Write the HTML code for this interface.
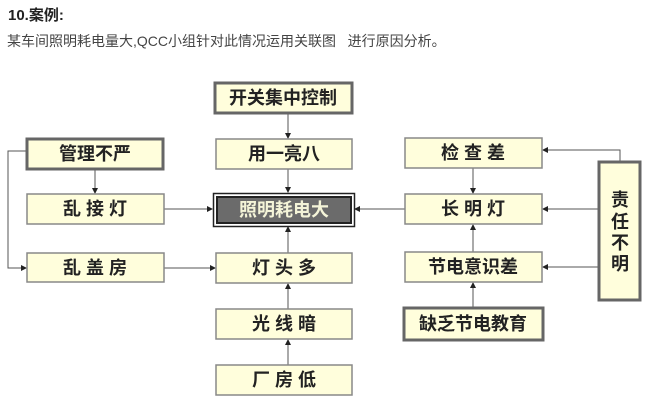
<!DOCTYPE html>
<html><head><meta charset="utf-8"><style>
body{margin:0;background:#fff;width:651px;height:413px;overflow:hidden;font-family:"Liberation Sans","Noto Sans CJK SC",sans-serif}
.t1{position:absolute;left:8px;top:4px;font-size:15px;font-weight:bold;color:#222}
.t2{position:absolute;left:7px;top:31px;font-size:14px;color:#444}
svg{position:absolute;left:0;top:0}
svg text{font-family:"Liberation Sans","Noto Sans CJK SC",sans-serif;font-weight:bold;font-size:18px;fill:#222;text-anchor:middle;dominant-baseline:central}
</style></head><body>
<div class="t1">10.案例:</div>
<div class="t2">某车间照明耗电量大,QCC小组针对此情况运用关联图&nbsp;&nbsp;&nbsp;进行原因分析。</div>
<svg width="651" height="413" viewBox="0 0 651 413">
<defs><marker id="a" markerWidth="6" markerHeight="6" refX="5" refY="3" orient="auto" markerUnits="userSpaceOnUse"><path d="M0,0 L6,3 L0,6 z" fill="#222"/></marker></defs>
<g stroke="#555" stroke-width="1" fill="none">
<line x1="288" y1="113" x2="288" y2="138" marker-end="url(#a)"/>
<line x1="288" y1="169" x2="288" y2="192" marker-end="url(#a)"/>
<line x1="95" y1="169" x2="95" y2="193" marker-end="url(#a)"/>
<line x1="164" y1="209" x2="212" y2="209" marker-end="url(#a)"/>
<line x1="405" y1="209" x2="355" y2="209" marker-end="url(#a)"/>
<line x1="288" y1="253" x2="288" y2="227" marker-end="url(#a)"/>
<line x1="288" y1="309" x2="288" y2="284" marker-end="url(#a)"/>
<line x1="288" y1="365" x2="288" y2="340" marker-end="url(#a)"/>
<line x1="164" y1="268" x2="215" y2="268" marker-end="url(#a)"/>
<polyline points="26,151 8,151 8,268 26,268" marker-end="url(#a)"/>
<line x1="473" y1="168" x2="473" y2="193" marker-end="url(#a)"/>
<line x1="473" y1="252" x2="473" y2="225" marker-end="url(#a)"/>
<line x1="473" y1="307" x2="473" y2="283" marker-end="url(#a)"/>
<polyline points="620,162 620,150 543,150" marker-end="url(#a)"/>
<line x1="598" y1="209" x2="543" y2="209" marker-end="url(#a)"/>
<line x1="598" y1="267" x2="543" y2="267" marker-end="url(#a)"/>
</g>
<g fill="#fffedc" stroke="#888" stroke-width="1.5">
<rect x="216" y="139" width="136" height="30"/>
<rect x="27" y="194" width="137" height="30"/>
<rect x="27" y="253" width="137" height="29"/>
<rect x="216" y="253" width="136" height="30"/>
<rect x="216" y="309" width="136" height="30"/>
<rect x="216" y="365" width="136" height="30"/>
<rect x="405" y="138" width="137" height="30"/>
<rect x="405" y="194" width="137" height="30"/>
<rect x="405" y="252" width="137" height="30"/>
</g>
<g fill="#fffedc" stroke="#666" stroke-width="3">
<rect x="215" y="83" width="137" height="30"/>
<rect x="27" y="139" width="136" height="30"/>
<rect x="404" y="308" width="139" height="32"/>
<rect x="599" y="162" width="41" height="138"/>
</g>
<rect x="213.5" y="193.5" width="141" height="33" fill="#fff" stroke="#222" stroke-width="1.5"/>
<rect x="217" y="197" width="134" height="26" fill="#6b6b6b" stroke="#222" stroke-width="2"/>
<text x="283" y="98" font-size="16">开关集中控制</text>
<text x="95" y="154">管理不严</text>
<text x="284" y="154">用一亮八</text>
<text x="95" y="209">乱 接 灯</text>
<text x="284" y="210" style="fill:#f4f4d8">照明耗电大</text>
<text x="95" y="268">乱 盖 房</text>
<text x="284" y="268">灯 头 多</text>
<text x="284" y="324">光 线 暗</text>
<text x="284" y="380">厂 房 低</text>
<text x="473" y="153">检 查 差</text>
<text x="473" y="209">长 明 灯</text>
<text x="473" y="267">节电意识差</text>
<text x="473" y="324" font-size="16">缺乏节电教育</text>
<text x="620" y="200" font-size="20">责</text>
<text x="620" y="222" font-size="20">任</text>
<text x="620" y="243" font-size="20">不</text>
<text x="620" y="264" font-size="20">明</text>
</svg>
</body></html>
